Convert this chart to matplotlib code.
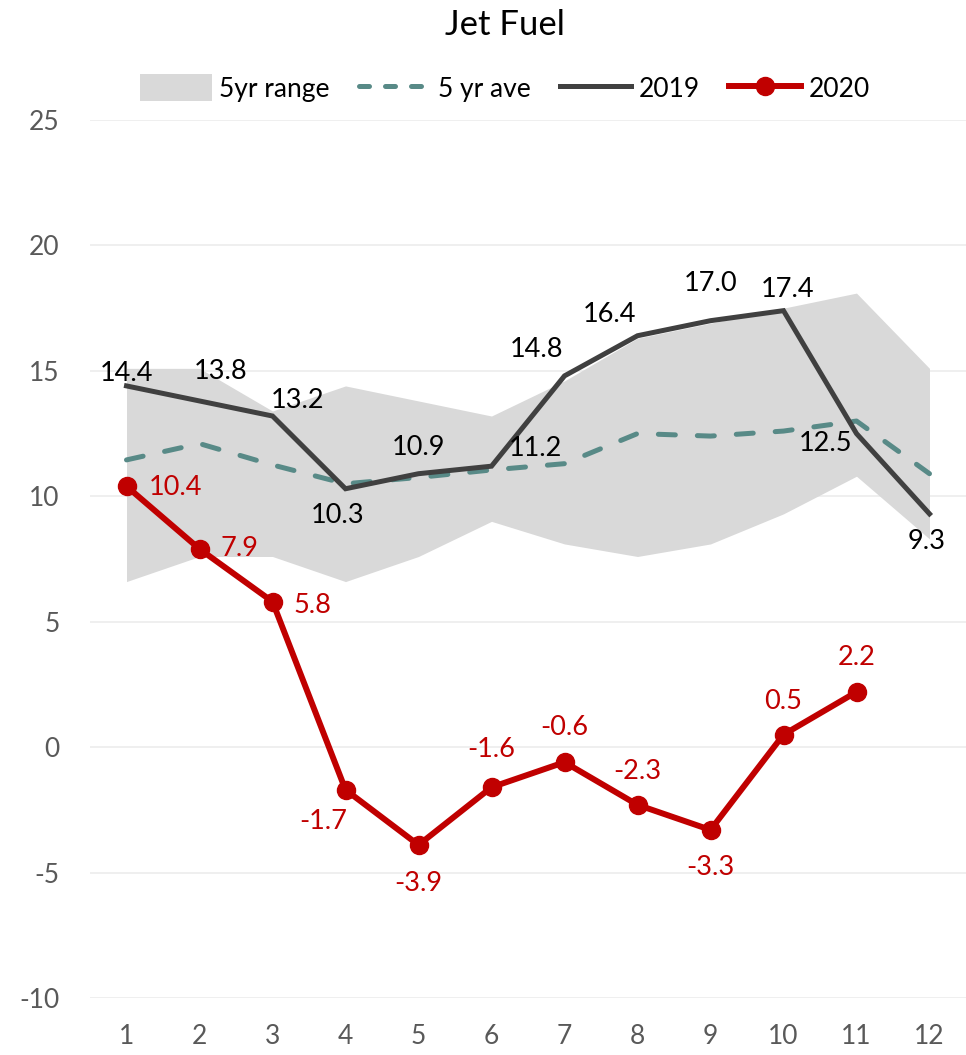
import matplotlib
matplotlib.use("Agg")
import matplotlib.pyplot as plt
from matplotlib.patches import Patch
from matplotlib.lines import Line2D

plt.rcParams['font.family'] = ['Lato', 'DejaVu Sans']

months = [1, 2, 3, 4, 5, 6, 7, 8, 9, 10, 11, 12]
range_low = [6.6, 7.6, 7.6, 6.6, 7.6, 9.0, 8.1, 7.6, 8.1, 9.3, 10.8, 8.3]
range_high = [15.1, 15.1, 13.4, 14.4, 13.8, 13.2, 14.6, 16.3, 16.9, 17.5, 18.1, 15.1]
ave_5yr = [11.45, 12.1, 11.25, 10.5, 10.75, 11.05, 11.3, 12.5, 12.4, 12.6, 13.0, 10.9]
y2019 = [14.4, 13.8, 13.2, 10.3, 10.9, 11.2, 14.8, 16.4, 17.0, 17.4, 12.5, 9.3]
y2020 = [10.4, 7.9, 5.8, -1.7, -3.9, -1.6, -0.6, -2.3, -3.3, 0.5, 2.2]
yticks = [-10, -5, 0, 5, 10, 15, 20, 25]

# label offsets (points)
off2019 = [(0, 9), (15, 21), (18, 11), (-6, -19), (0, 19), (32, 13), (-20, 19), (-20, 15), (0, 27), (3, 15), (-22, -7), (-2, -20)]
off2020 = [(35, -1), (29, 0), (29, -3), (-16, -23), (0, -28), (0, 27), (0, 25), (0, 24), (0, -27), (0, 24), (0, 25)]

C_RANGE = '#d9d9d9'
C_AVE = '#588a87'
C_2019 = '#404040'
C_2020 = '#c00000'

fig = plt.figure(figsize=(9.66, 10.55), dpi=100)
ax = fig.add_axes([90/966, 57/1055, 876/966, 878/1055])

ax.fill_between(months, range_low, range_high, color=C_RANGE, lw=0, zorder=1)
ax.plot(months, ave_5yr, color=C_AVE, lw=3.6, dashes=(3.4, 4.4), dash_capstyle='round', zorder=2)
ax.plot(months, y2019, color=C_2019, lw=3.6, solid_joinstyle='miter', zorder=3)
ax.plot(months[:len(y2020)], y2020, color=C_2020, lw=4.3, marker='o', ms=13, zorder=4)

for x, v, o in zip(months, y2019, off2019):
    ax.annotate(f"{v:.1f}", (x, v), xytext=o, textcoords='offset points',
                ha='center', va='center', fontsize=19.5, color='black', zorder=5)
for x, v, o in zip(months, y2020, off2020):
    ax.annotate(f"{v:.1f}", (x, v), xytext=o, textcoords='offset points',
                ha='center', va='center', fontsize=19.5, color=C_2020, zorder=5)

ax.set_xlim(0.5, 12.5)
ax.set_ylim(-10, 25)
ax.set_yticks(yticks)
ax.set_xticks(months)
ax.set_yticklabels([str(t) for t in yticks])
ax.grid(axis='y', color='#ececec', lw=1.2, zorder=0)
ax.set_axisbelow(True)
for s in ax.spines.values():
    s.set_visible(False)
ax.tick_params(axis='both', length=0, labelsize=19, colors='#595959')
ax.tick_params(axis='y', pad=22)
ax.tick_params(axis='x', pad=19)

fig.text(505/966, 1 - 25/1055, 'Jet Fuel', ha='center', va='center', fontsize=25, color='black')

handles = [
    Patch(facecolor=C_RANGE, edgecolor='none'),
    Line2D([], [], color=C_AVE, lw=3.6, dashes=(2.0, 3.2), dash_capstyle='round'),
    Line2D([], [], color=C_2019, lw=3.6),
    Line2D([], [], color=C_2020, lw=4.3, marker='o', ms=13),
]
labels = ['5yr range', '5 yr ave', '2019', '2020']
fig.legend(handles, labels, loc='center', bbox_to_anchor=(505/966, 1 - 88/1055), ncol=4,
           frameon=False, fontsize=19, handlelength=2.7, handletextpad=0.3,
           columnspacing=1.1, handleheight=1.2)

fig.savefig('out.png', dpi=100)
